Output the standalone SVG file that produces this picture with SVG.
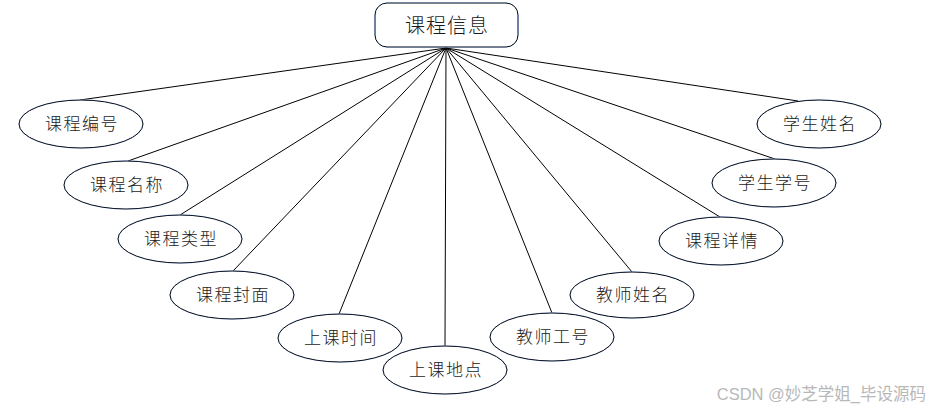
<svg xmlns="http://www.w3.org/2000/svg" width="931" height="409" viewBox="0 0 931 409">
<defs>
<filter id="sh" x="-20%" y="-20%" width="140%" height="140%">
<feGaussianBlur in="SourceAlpha" stdDeviation="1.5"/>
<feOffset dx="1" dy="2"/>
<feComponentTransfer><feFuncA type="linear" slope="0.15"/></feComponentTransfer>
<feFlood flood-color="#6a8fd0"/>
<feComposite operator="in" in2="SourceAlpha"/>
<feMerge><feMergeNode/><feMergeNode in="SourceGraphic"/></feMerge>
</filter>
</defs>
<style>
.e{fill:#fff;stroke:#000;stroke-width:1}
.t{font-family:"Noto Sans CJK SC",sans-serif;font-size:17px;font-weight:300;fill:#1a1a1a;text-anchor:middle;letter-spacing:1.5px}
.c{stroke:#000;stroke-width:1;fill:none}
</style>
<rect width="931" height="409" fill="#fff"/>
<g id="connectors">
<line class="c" x1="446" y1="48" x2="80" y2="100"/>
<line class="c" x1="446" y1="48" x2="128" y2="161"/>
<line class="c" x1="446" y1="48" x2="180" y2="215"/>
<line class="c" x1="446" y1="48" x2="233" y2="271"/>
<line class="c" x1="446" y1="48" x2="339" y2="314"/>
<line class="c" x1="446" y1="48" x2="445" y2="346"/>
<line class="c" x1="446" y1="48" x2="552" y2="313"/>
<line class="c" x1="446" y1="48" x2="632" y2="272"/>
<line class="c" x1="446" y1="48" x2="720" y2="217"/>
<line class="c" x1="446" y1="48" x2="775" y2="159"/>
<line class="c" x1="446" y1="48" x2="798" y2="101"/>
</g>
<g id="n0">
<rect class="e" x="375" y="3" width="143" height="44" rx="12" filter="url(#sh)"/>
<text x="447" y="33" class="t" style="font-size:20px;letter-spacing:1px">课程信息</text>
</g>
<g id="n1"><ellipse class="e" cx="81" cy="124" rx="62" ry="24" filter="url(#sh)"/><text class="t" x="82" y="130">课程编号</text></g>
<g id="n2"><ellipse class="e" cx="126" cy="185" rx="62" ry="24" filter="url(#sh)"/><text class="t" x="127" y="191">课程名称</text></g>
<g id="n3"><ellipse class="e" cx="180" cy="239" rx="62" ry="24" filter="url(#sh)"/><text class="t" x="181" y="245">课程类型</text></g>
<g id="n4"><ellipse class="e" cx="232" cy="295" rx="62" ry="24" filter="url(#sh)"/><text class="t" x="233" y="301">课程封面</text></g>
<g id="n5"><ellipse class="e" cx="340" cy="338" rx="62" ry="24" filter="url(#sh)"/><text class="t" x="341" y="344">上课时间</text></g>
<g id="n6"><ellipse class="e" cx="445" cy="370" rx="62" ry="24" filter="url(#sh)"/><text class="t" x="446" y="376">上课地点</text></g>
<g id="n7"><ellipse class="e" cx="552" cy="337" rx="62" ry="24" filter="url(#sh)"/><text class="t" x="553" y="343">教师工号</text></g>
<g id="n8"><ellipse class="e" cx="632" cy="295" rx="62" ry="23" filter="url(#sh)"/><text class="t" x="633" y="301">教师姓名</text></g>
<g id="n9"><ellipse class="e" cx="721" cy="241" rx="62" ry="24" filter="url(#sh)"/><text class="t" x="722" y="247">课程详情</text></g>
<g id="n10"><ellipse class="e" cx="774" cy="183" rx="62" ry="24" filter="url(#sh)"/><text class="t" x="775" y="189">学生学号</text></g>
<g id="n11"><ellipse class="e" cx="819" cy="124" rx="62" ry="24" filter="url(#sh)"/><text class="t" x="820" y="130">学生姓名</text></g>
<text x="926" y="400" style="font-family:'Liberation Sans','Noto Sans CJK SC',sans-serif;font-size:16.5px;fill:#b8b8b8;text-anchor:end">CSDN @妙芝学姐_毕设源码</text>
</svg>
